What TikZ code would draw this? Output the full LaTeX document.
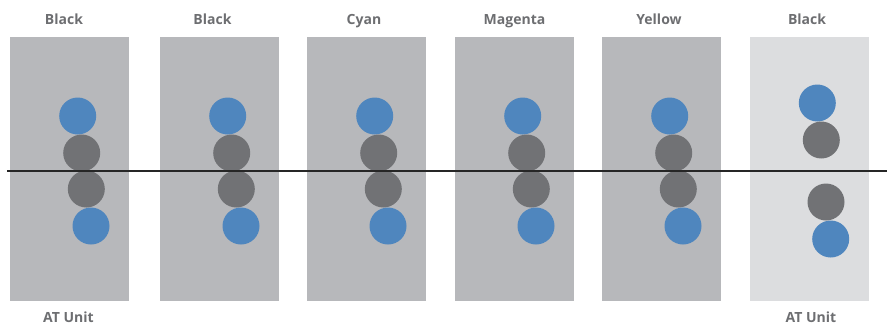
\documentclass[tikz,border=0pt]{standalone}
\usepackage{fontspec}
\setmainfont{Open Sans}
\usetikzlibrary{positioning}
\definecolor{my_panel}{RGB}{183, 184, 187}
\definecolor{my_lightpanel}{RGB}{220, 221, 223}
\definecolor{my_blue}{RGB}{79, 134, 190}
\definecolor{my_gray}{RGB}{113, 114, 117}
\definecolor{my_text}{RGB}{109, 110, 113}
\tikzset {
  panel/.style = {rectangle, fill=my_panel, inner sep=0, minimum width=89.25pt, minimum height=198pt},
  lightpanel/.style = {panel, fill=my_lightpanel},
  dot/.style = {circle, inner sep=0, minimum size=27.75pt},
  bluedot/.style = {dot, fill=my_blue},
  graydot/.style = {dot, fill=my_gray},
  caption/.style = {text=my_text, font=\bfseries\fontsize{10.5}{12}\selectfont, inner sep=0, anchor=base},
  axis/.style = {line width=1.1pt, color=black!85}
}

\begin{document}
\begin{tikzpicture}[x=0.75pt, y=-0.75pt]
    \useasboundingbox (0,0) rectangle (887,325);

    % the five inked units
    \foreach \cx/\lx/\ink/\i in {69.5/64/Black/1, 219.5/212.5/Black/2, 366.5/364/Cyan/3, 514.5/514.5/Magenta/4, 661.5/659/Yellow/5} {
        \node[panel] (panel\i) at (\cx,169) {};
        \node[caption] (ink\i) at (\lx,24) {\ink};
        \node[bluedot] (topblue\i) at (\cx+8.2,116) {};
        \node[graydot] (topgray\i) at (\cx+12.2,153) {};
        \node[graydot] (botgray\i) at (\cx+16.8,189) {};
        \node[bluedot] (botblue\i) at (\cx+21.5,226) {};
    }

    % the open unit
    \node[lightpanel] (panel6) at (809.5,169) {};
    \node[caption] (ink6) at (807,24) {Black};
    \node[bluedot] (topblue6) at (817.3,103) {};
    \node[graydot] (topgray6) at (821.3,140) {};
    \node[graydot] (botgray6) at (826,202) {};
    \node[bluedot] (botblue6) at (830.7,239) {};

    \node[caption] (unitA) at (68.5,322.5) {AT Unit};
    \node[caption] (unitB) at (811,322.5) {AT Unit};

    \coordinate (lineW) at (7,171);
    \coordinate (lineE) at (887,171);
    \draw[axis] (lineW) -- (lineE);

\end{tikzpicture}
\end{document}
